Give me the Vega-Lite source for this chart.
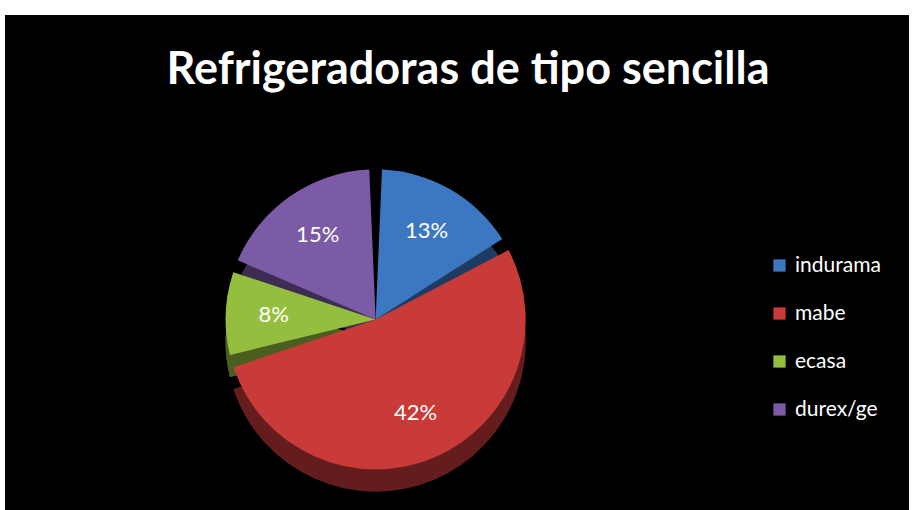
{
  "$schema": "https://vega.github.io/schema/vega-lite/v6.json",
  "width": 913,
  "height": 510,
  "autosize": {"type": "fit", "contains": "padding"},
  "padding": {"top": 15, "left": 5, "right": 4, "bottom": 0},
  "background": "white",
  "view": {"fill": "black", "stroke": null},
  "config": {"view": {"fill": "black", "stroke": null}},
  "title": {
    "text": "Refrigeradoras de tipo sencilla",
    "color": "white",
    "font": "Lato",
    "fontWeight": "bold",
    "fontSize": 45,
    "anchor": "middle",
    "offset": -78,
    "dx": 11
  },
  "data": {
    "values": [
      {"marca": "indurama", "pct": 13, "label": "13%", "orden": 1},
      {"marca": "mabe", "pct": 42, "label": "42%", "orden": 2},
      {"marca": "ecasa", "pct": 8, "label": "8%", "orden": 3},
      {"marca": "durex/ge", "pct": 15, "label": "15%", "orden": 4}
    ]
  },
  "encoding": {
    "theta": {"field": "pct", "type": "quantitative", "stack": true},
    "order": {"field": "orden", "type": "quantitative"},
    "color": {
      "field": "marca",
      "type": "nominal",
      "scale": {
        "domain": ["indurama", "mabe", "ecasa", "durex/ge"],
        "range": ["#3C78C2", "#C83B39", "#94BF3E", "#7B5AA6"]
      },
      "legend": {
        "title": null,
        "orient": "none",
        "legendX": 764,
        "legendY": 240,
        "symbolType": "square",
        "symbolSize": 150,
        "symbolStrokeWidth": 0,
        "labelColor": "white",
        "labelFont": "Lato",
        "labelFontSize": 21,
        "rowPadding": 26,
        "labelOffset": 5
      }
    }
  },
  "layer": [
    {
      "mark": {"type": "arc", "outerRadius": 150, "padAngle": 0.085, "x": {"expr": "width*0.41"}, "y": {"expr": "height*0.615+22"}}
    },
    {
      "mark": {"type": "arc", "outerRadius": 150, "padAngle": 0.085, "x": {"expr": "width*0.41"}, "y": {"expr": "height*0.615+22"}, "fill": "black", "fillOpacity": 0.5},
      "encoding": {"color": {"value": "black"}}
    },
    {
      "mark": {"type": "arc", "outerRadius": 150, "padAngle": 0.085, "x": {"expr": "width*0.41"}, "y": {"expr": "height*0.615"}}
    },
    {
      "mark": {"type": "text", "radius": 102, "x": {"expr": "width*0.41"}, "y": {"expr": "height*0.615"}, "font": "Lato", "fontSize": 22, "fill": "white"},
      "encoding": {"text": {"field": "label"}, "color": {"value": "white"}}
    }
  ]
}
